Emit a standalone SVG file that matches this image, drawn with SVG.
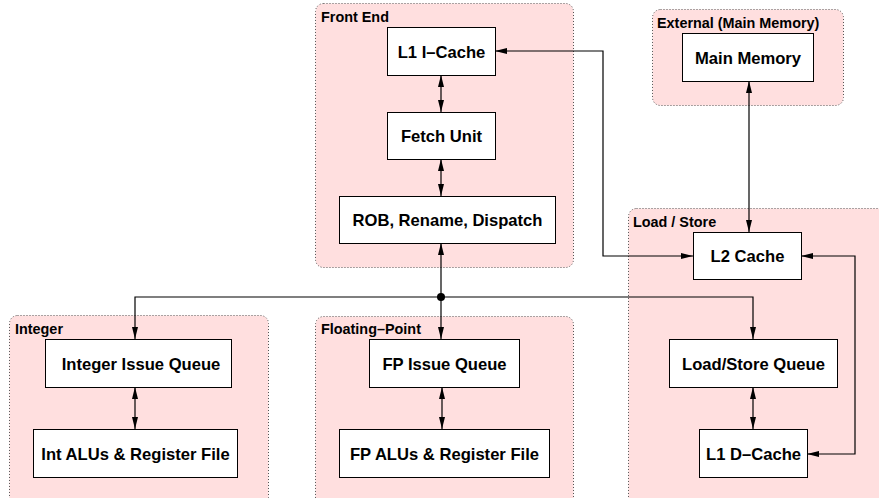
<svg xmlns="http://www.w3.org/2000/svg" width="879" height="498" viewBox="0 0 879 498">
  <defs>
    <marker id="ah" viewBox="0 0 12 6" refX="12" refY="3" markerWidth="12" markerHeight="6" markerUnits="userSpaceOnUse" orient="auto-start-reverse">
      <path d="M0,0 L12,3 L0,6 z" fill="#000"/>
    </marker>
    <style>
      .cluster { fill: #ffdfdf; stroke: #555; stroke-width: 1; stroke-dasharray: 1 2; }
      .clabel { font-family: "Liberation Sans", Arial, sans-serif; font-weight: bold; font-size: 14.4px; fill: #000; }
      .box { fill: #fff; stroke: #000; stroke-width: 1; }
      .btext { font-family: "Liberation Sans", Arial, sans-serif; font-weight: bold; font-size: 16.6px; fill: #000; text-anchor: middle; }
      .edge { fill: none; stroke: #000; stroke-width: 1.2; }
      .both { marker-start: url(#ah); marker-end: url(#ah); }
      .fwd { marker-end: url(#ah); }
    </style>
  </defs>

  <!-- clusters -->
  <g id="cluster-frontend">
    <rect class="cluster" x="315.5" y="3.5" width="258" height="264" rx="8"/>
    <text class="clabel" x="321" y="22">Front End</text>
  </g>
  <g id="cluster-external">
    <rect class="cluster" x="652.5" y="9.5" width="191" height="96" rx="8"/>
    <text class="clabel" x="657" y="28">External (Main Memory)</text>
  </g>
  <g id="cluster-loadstore">
    <rect class="cluster" x="628.5" y="208.5" width="260" height="300" rx="8"/>
    <text class="clabel" x="633" y="227">Load / Store</text>
  </g>
  <g id="cluster-integer">
    <rect class="cluster" x="9.5" y="315.5" width="259" height="190" rx="8"/>
    <text class="clabel" x="15" y="334">Integer</text>
  </g>
  <g id="cluster-fp">
    <rect class="cluster" x="315.5" y="316.5" width="258" height="190" rx="8"/>
    <text class="clabel" x="321" y="334">Floating–Point</text>
  </g>

  <!-- connectors -->
  <g id="connectors">
    <line class="edge both" x1="441" y1="75" x2="441" y2="112"/>
    <line class="edge both" x1="441" y1="159" x2="441" y2="196"/>
    <line class="edge fwd" x1="441" y1="297" x2="441" y2="243"/>
    <polyline class="edge both" points="495,51 603,51 603,256 693,256"/>
    <line class="edge both" x1="749" y1="81" x2="749" y2="232"/>
    <polyline class="edge both" points="801,256 855,256 855,454 807,454"/>
    <polyline class="edge fwd" points="441,297 135,297 135,339"/>
    <line class="edge fwd" x1="441" y1="297" x2="441" y2="339"/>
    <polyline class="edge fwd" points="441,297 753,297 753,339"/>
    <line class="edge both" x1="135" y1="387" x2="135" y2="429"/>
    <line class="edge both" x1="442" y1="387" x2="442" y2="429"/>
    <line class="edge both" x1="753" y1="387" x2="753" y2="429"/>
    <circle cx="441" cy="297" r="4" fill="#000"/>
  </g>

  <!-- nodes -->
  <g id="l1icache">
    <rect class="box" x="387.5" y="27.5" width="108" height="48"/>
    <text class="btext" x="441.5" y="57.5">L1 I–Cache</text>
  </g>
  <g id="fetch">
    <rect class="box" x="387.5" y="112.5" width="108" height="47"/>
    <text class="btext" x="441.5" y="142">Fetch Unit</text>
  </g>
  <g id="rob">
    <rect class="box" x="339.5" y="196.5" width="216" height="47"/>
    <text class="btext" x="447.5" y="226">ROB, Rename, Dispatch</text>
  </g>
  <g id="mainmem">
    <rect class="box" x="682.5" y="33.5" width="131" height="48"/>
    <text class="btext" x="748" y="63.5">Main Memory</text>
  </g>
  <g id="l2cache">
    <rect class="box" x="693.5" y="232.5" width="108" height="47"/>
    <text class="btext" x="747.5" y="262">L2 Cache</text>
  </g>
  <g id="lsq">
    <rect class="box" x="669.5" y="339.5" width="168" height="48"/>
    <text class="btext" x="753.5" y="369.5">Load/Store Queue</text>
  </g>
  <g id="l1dcache">
    <rect class="box" x="699.5" y="429.5" width="108" height="48"/>
    <text class="btext" x="753.5" y="459.5">L1 D–Cache</text>
  </g>
  <g id="intiq">
    <rect class="box" x="45.5" y="339.5" width="186" height="48"/>
    <text class="btext" x="141" y="369.5">Integer Issue Queue</text>
  </g>
  <g id="intalu">
    <rect class="box" x="33.5" y="429.5" width="204" height="48"/>
    <text class="btext" x="135.5" y="459.5">Int ALUs &amp; Register File</text>
  </g>
  <g id="fpiq">
    <rect class="box" x="369.5" y="339.5" width="150" height="48"/>
    <text class="btext" x="444.5" y="369.5">FP Issue Queue</text>
  </g>
  <g id="fpalu">
    <rect class="box" x="339.5" y="429.5" width="210" height="48"/>
    <text class="btext" x="444.5" y="459.5">FP ALUs &amp; Register File</text>
  </g>
</svg>
